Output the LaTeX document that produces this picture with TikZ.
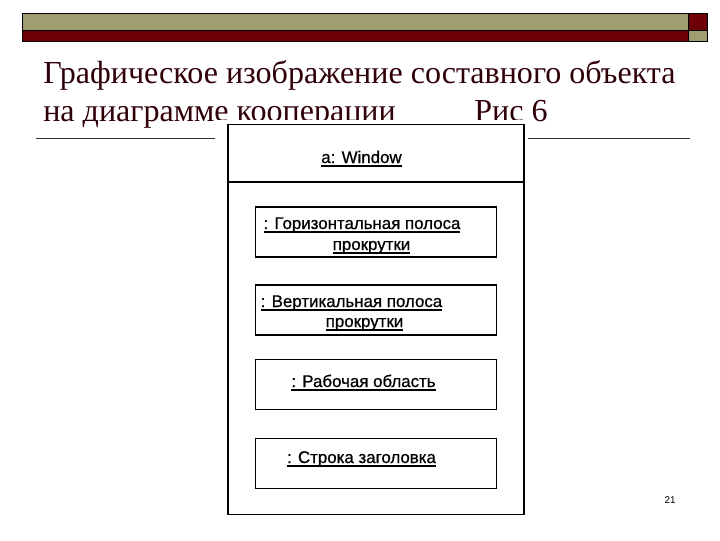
\documentclass[tikz,border=0pt]{standalone}
\usepackage{fontspec}
\setmainfont{Liberation Serif}
\setsansfont{Liberation Sans}
\newfontfamily\scanfont[FakeBold=0.8]{Liberation Sans}
\usepackage{tikz}
\usetikzlibrary{positioning}
\definecolor{olive}{RGB}{160,158,112}
\definecolor{maroon}{RGB}{110,0,8}
\definecolor{titlered}{RGB}{48,0,8}
% soulignement epais
\newcommand\uln[1]{\setbox0\hbox{#1}\rlap{\rule[-2.6pt]{\wd0}{0.9pt}}\box0}
\tikzset{
  whole/.style = {draw=black, thick, minimum width=7.4cm,
    minimum height=9.75cm, inner sep=0pt},% objet composite
  part/.style = {draw=black, very thick, fill=white, minimum width=6.025cm,
    minimum height=1.25cm},% objet partie
  lbl/.style = {anchor=base, inner sep=0pt,
    font=\scanfont\fontsize{12}{14}\selectfont},% nom souligne
  title/.style = {anchor=base west, titlered, inner sep=0pt,
    font=\fontsize{22.8}{26}\selectfont}
}

\begin{document}
\begin{tikzpicture}[x=0.025cm,y=-0.025cm]
\useasboundingbox (0,0) rectangle (720,540);
% bandeau du haut
\draw[fill=olive] (22,13) rectangle (688,30);
\draw[fill=maroon] (22,30) rectangle (688,41);
\draw[fill=maroon] (688,13) rectangle (707,30);
\draw[fill=olive] (688,30) rectangle (707,41);
% titre
\node (t1) [title] at (43,83) {Графическое изображение составного объекта};
\node (t2) [title] at (43,121) {на диаграмме кооперации\hspace{2.45em}Рис 6};
\coordinate (l1) at (36,138);
\coordinate (l2) at (690,138);
\draw[black!80] (l1) -- (l2);
% fond blanc de la figure
\fill[white] (215,119.5) rectangle (528,520);
% objet composite
\node (win) [whole] at (376,319.5) {};
\node (wname) [lbl] at (361.5,163) {\uln{a: Window}};
\coordinate (d1) at (win.west |- 0,182);
\coordinate (d2) at (win.east |- 0,182);
\draw[thick] (d1) -- (d2);
\node (hbar) [part] at (376,232) {};
\node (hbar1) [lbl] at (362,229) {\uln{: Горизонтальная полоса}};
\node (hbar2) [lbl] at (371.5,250) {\uln{прокрутки}};
\node (vbar) [part] at (376,310) {};
\node (vbar1) [lbl] at (351.5,307) {\uln{: Вертикальная полоса}};
\node (vbar2) [lbl] at (364.5,327) {\uln{прокрутки}};
\node (work) [part] at (376,384.5) {};
\node (work1) [lbl] at (363.5,387) {\uln{: Рабочая область}};
\node (tbar) [part] at (376,463.5) {};
\node (tbar1) [lbl] at (361.5,463) {\uln{: Строка заголовка}};
% numero de page
\node (num) [font=\sffamily\fontsize{7}{8}\selectfont] at (670,500) {21};
\end{tikzpicture}
\end{document}
